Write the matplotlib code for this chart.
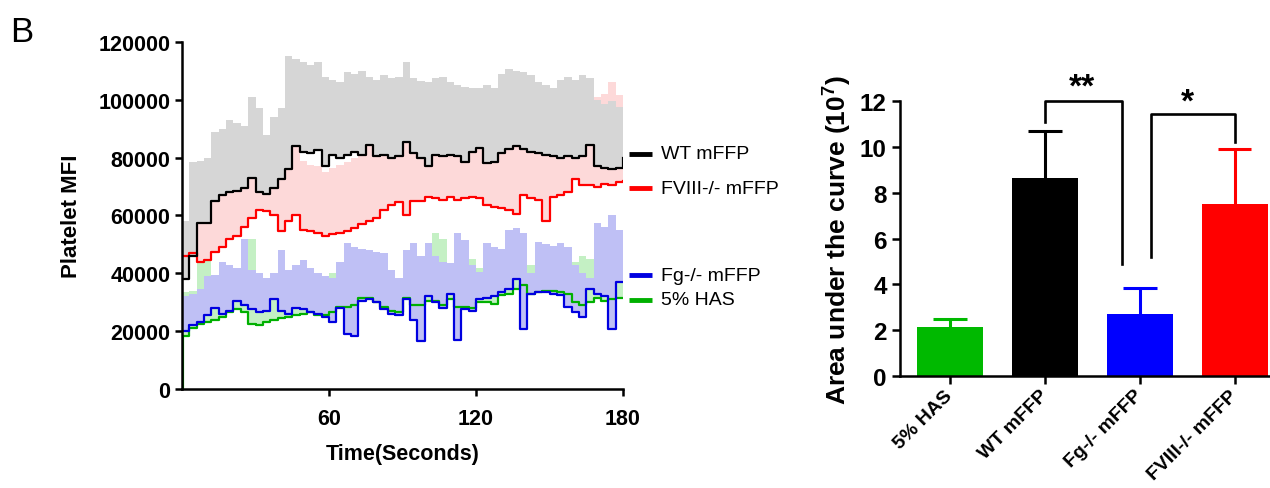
import matplotlib
matplotlib.use("Agg")
import matplotlib.pyplot as plt
import numpy as np

plt.rcParams['font.family'] = ['Liberation Sans', 'DejaVu Sans']
plt.rcParams['mathtext.fontset'] = 'custom'
plt.rcParams['mathtext.bf'] = 'Liberation Sans:bold'
plt.rcParams['mathtext.rm'] = 'Liberation Sans'

# ---- time course (values every 3 s) ----
t = np.arange(0, 181, 3)

wt_mean = [38000, 46000, 57500, 57500, 65000, 67000, 68000, 68500, 69500, 73000,
           68000, 67500, 69500, 72500, 76000, 84000, 82000, 81500, 82500, 77000,
           81000, 80000, 81000, 82000, 81000, 84500, 80500, 81000, 80000, 80500,
           85500, 81500, 80000, 77000, 81000, 80500, 81000, 80500, 78500, 82000,
           83500, 78000, 78500, 81500, 83000, 84000, 83000, 82000, 81500, 81000,
           80500, 80000, 80500, 80000, 80500, 84500, 77000, 76500, 76000, 76500,
           80000]
wt_upper = [58000, 78500, 79000, 80000, 89000, 90000, 93000, 92000, 91000, 101000,
            97000, 88000, 94000, 97000, 115000, 114000, 113000, 112000, 113000, 108000,
            107000, 106000, 109500, 109000, 110000, 108000, 107000, 108500, 107500, 108000,
            113000, 107500, 106500, 106000, 107500, 108000, 106000, 105000, 104500, 104000,
            104000, 105000, 104000, 109000, 110500, 110000, 109500, 108500, 106000, 105000,
            104000, 107000, 108000, 107000, 108500, 107500, 100000, 98500, 99500, 97500,
            97500]

fviii_mean = [46000, 47000, 44000, 44500, 47500, 49000, 52000, 53000, 56000, 59000,
              62000, 61500, 60000, 54500, 58000, 60000, 55000, 54500, 54000, 53000,
              53500, 54000, 54500, 55500, 57000, 58000, 59000, 62000, 63500, 64500,
              60000, 65000, 65000, 66500, 66000, 65500, 66500, 65500, 66000, 66500,
              66000, 63500, 63000, 62500, 62000, 60500, 67000, 66000, 65500, 58000,
              66500, 67000, 68000, 72500, 70500, 70500, 70000, 71000, 70500, 71500,
              72000]
fviii_upper = [55000, 68000, 67000, 68000, 70000, 72000, 75000, 76000, 79000, 82000,
               85000, 85000, 83000, 78000, 80000, 85000, 79000, 77500, 77000, 75000,
               76500, 77500, 78500, 80000, 82000, 84000, 86000, 89000, 91000, 92000,
               88000, 93000, 94000, 96000, 95000, 95000, 96000, 95000, 96000, 96000,
               95000, 93000, 92000, 92000, 91000, 90000, 97000, 96000, 96000, 88000,
               96000, 97000, 98000, 101000, 100000, 101000, 101000, 102000, 106000, 101500,
               100500]

fg_mean = [20000, 22000, 23000, 25500, 28000, 26000, 27000, 30500, 29000, 27500,
           26500, 27000, 31000, 27000, 26000, 28000, 27500, 26500, 26000, 25000,
           23000, 28000, 19000, 18300, 30500, 31000, 30000, 27500, 26000, 25500,
           31000, 24000, 16500, 32000, 30000, 28000, 33000, 17000, 27500, 27000,
           31000, 31500, 32000, 33500, 34500, 38000, 20800, 33000, 33500, 33500,
           33000, 32500, 28500, 26500, 25000, 34500, 33000, 32000, 20800, 37000,
           37000]
fg_upper = [32000, 33000, 34500, 39000, 39500, 44000, 43000, 42000, 52000, 41000,
            40000, 38500, 40000, 48000, 41000, 43000, 44500, 42000, 40000, 39000,
            38500, 44000, 50500, 49000, 48500, 48000, 47500, 47000, 41000, 38500,
            48000, 50500, 46000, 50500, 46000, 44000, 43500, 54000, 51500, 43000,
            40500, 50500, 49000, 48500, 55000, 55500, 54000, 40000, 51000, 50000,
            49500, 50500, 49000, 43000, 40000, 38500, 57500, 56000, 60000, 55000,
            59000]

has_mean = [18300, 21000, 22500, 23000, 24000, 25000, 26500, 27500, 26500, 22500,
            22000, 23000, 24000, 24500, 25000, 25500, 26000, 26500, 25500, 25500,
            26500, 28500, 28500, 29000, 31500, 31500, 30000, 28500, 27000, 26500,
            31500, 29000, 29000, 30500, 30500, 29000, 31000, 28500, 28500, 28000,
            30000, 30000, 29500, 32500, 33000, 34500, 36000, 33000, 33500, 34000,
            34000, 33500, 33000, 30000, 29000, 30000, 31500, 30500, 31000, 31500,
            31500]
has_upper = [33500, 34000, 44000, 46000, 36000, 37000, 38000, 39000, 40000, 52000,
             34000, 35000, 36000, 37000, 37500, 38000, 38000, 38500, 38000, 38500,
             40000, 40000, 41000, 42000, 42000, 42000, 42000, 43000, 40000, 38000,
             41000, 42000, 42000, 45000, 54000, 52000, 42000, 42000, 42000, 45000,
             42000, 42000, 43000, 43000, 44000, 45000, 45000, 43000, 44000, 44000,
             44000, 44000, 44000, 44000, 46000, 45000, 44000, 44000, 44000, 43000,
             43000]

series_labels = ['WT mFFP', 'FVIII-/- mFFP', 'Fg-/- mFFP', '5% HAS']

# ---- area under the curve (x 10^7) ----
groups = ['5% HAS', 'WT mFFP', 'Fg-/- mFFP', 'FVIII-/- mFFP']
auc = [2.15, 8.65, 2.7, 7.5]
auc_sd = [0.35, 2.05, 1.15, 2.4]
bar_colors = ['#00b900', 'black', '#0000ff', '#ff0000']

fig = plt.figure(figsize=(12.7, 4.89), dpi=100)

# ---------------- left panel ----------------
ax = fig.add_axes([0.1433, 0.2025, 0.3473, 0.7096])

ax.fill_between(t, has_mean, has_upper, step='post', color='#c4f0c4', lw=0)
ax.plot(t, has_mean, drawstyle='steps-post', color='#00b000', lw=1.6)
ax.vlines(t[0], 0, has_mean[0], color='#00b000', lw=3)
ax.fill_between(t, fg_mean, fg_upper, step='post', color='#bfc0f5', lw=0)
ax.plot(t, fg_mean, drawstyle='steps-post', color='#0000e0', lw=1.6)
ax.fill_between(t, fviii_mean, fviii_upper, step='post', color='#fdd9d9', lw=0)
ax.fill_between(t, wt_mean, wt_upper, step='post', color='#d6d6d6', lw=0)
ax.plot(t, fviii_mean, drawstyle='steps-post', color='#ff0000', lw=1.6)
ax.plot(t, wt_mean, drawstyle='steps-post', color='black', lw=1.6)

ax.set_xlim(0, 180)
ax.set_ylim(0, 120000)
ax.set_xticks([60, 120, 180])
ax.set_yticks(np.arange(0, 120001, 20000))
ax.spines['top'].set_visible(False)
ax.spines['right'].set_visible(False)
for s in ['left', 'bottom']:
    ax.spines[s].set_linewidth(1.8)
ax.tick_params(width=1.8, length=5, labelsize=15.5)
ax.tick_params(axis='x', pad=9)
for lab in ax.get_xticklabels() + ax.get_yticklabels():
    lab.set_fontweight('bold')
ax.set_xlabel('Time(Seconds)', fontsize=15.5, fontweight='bold', labelpad=10)
ax.set_ylabel('Platelet MFI', fontsize=16, fontweight='bold', labelpad=12)

# end-of-trace labels
label_y = [81300, 69400, 39400, 30900]
label_c = ['black', '#ff0000', '#0000e0', '#00b000']
for lab, yy, cc in zip(series_labels, label_y, label_c):
    ax.plot([182.5, 191.8], [yy, yy], color=cc, lw=3.5, clip_on=False,
            solid_capstyle='butt')
    ax.text(195.5, yy, lab, fontsize=14, va='center', ha='left')

fig.text(0.008, 0.914, 'B', fontsize=25)

# ---------------- right panel ----------------
bx = fig.add_axes([0.7087, 0.229, 0.2913, 0.5624])
xpos = np.arange(len(groups))
bx.bar(xpos, auc, width=0.7, color=bar_colors)
tops = np.array(auc) + np.array(auc_sd)
bx.vlines(xpos, auc, tops, colors=bar_colors, lw=2.2)
bx.hlines(tops, xpos - 0.175, xpos + 0.175, colors=bar_colors, lw=2.2)
bx.set_xlim(-0.526, 3.37)
bx.set_ylim(0, 12)
bx.set_yticks(np.arange(0, 13, 2))
bx.set_xticks(xpos)
bx.spines['top'].set_visible(False)
bx.spines['right'].set_visible(False)
for s in ['left', 'bottom']:
    bx.spines[s].set_linewidth(1.8)
bx.tick_params(width=1.8, length=6)
bx.tick_params(axis='y', labelsize=17.5)
bx.tick_params(axis='x', pad=6)
for lab in bx.get_yticklabels():
    lab.set_fontweight('bold')
bx.set_xticklabels(groups, rotation=45, ha='right', va='center',
                   rotation_mode='anchor', fontsize=14, fontweight='bold')
bx.set_ylabel('Area under the curve (10$^{\\mathbf{7}}$)', fontsize=19,
              fontweight='bold', labelpad=5)

# significance brackets
bx.plot([1.0, 1.0, 1.81, 1.81], [11.1, 12.0, 12.0, 4.9], color='black',
        lw=1.9, clip_on=False)
bx.text(1.39, 12.6, '**', fontsize=24, fontweight='bold', ha='center',
        va='center')
bx.plot([2.12, 2.12, 3.0, 3.0], [5.2, 11.45, 11.45, 10.2], color='black',
        lw=1.9, clip_on=False)
bx.text(2.5, 11.95, '*', fontsize=24, fontweight='bold', ha='center',
        va='center')

fig.savefig('out.png', dpi=100)
